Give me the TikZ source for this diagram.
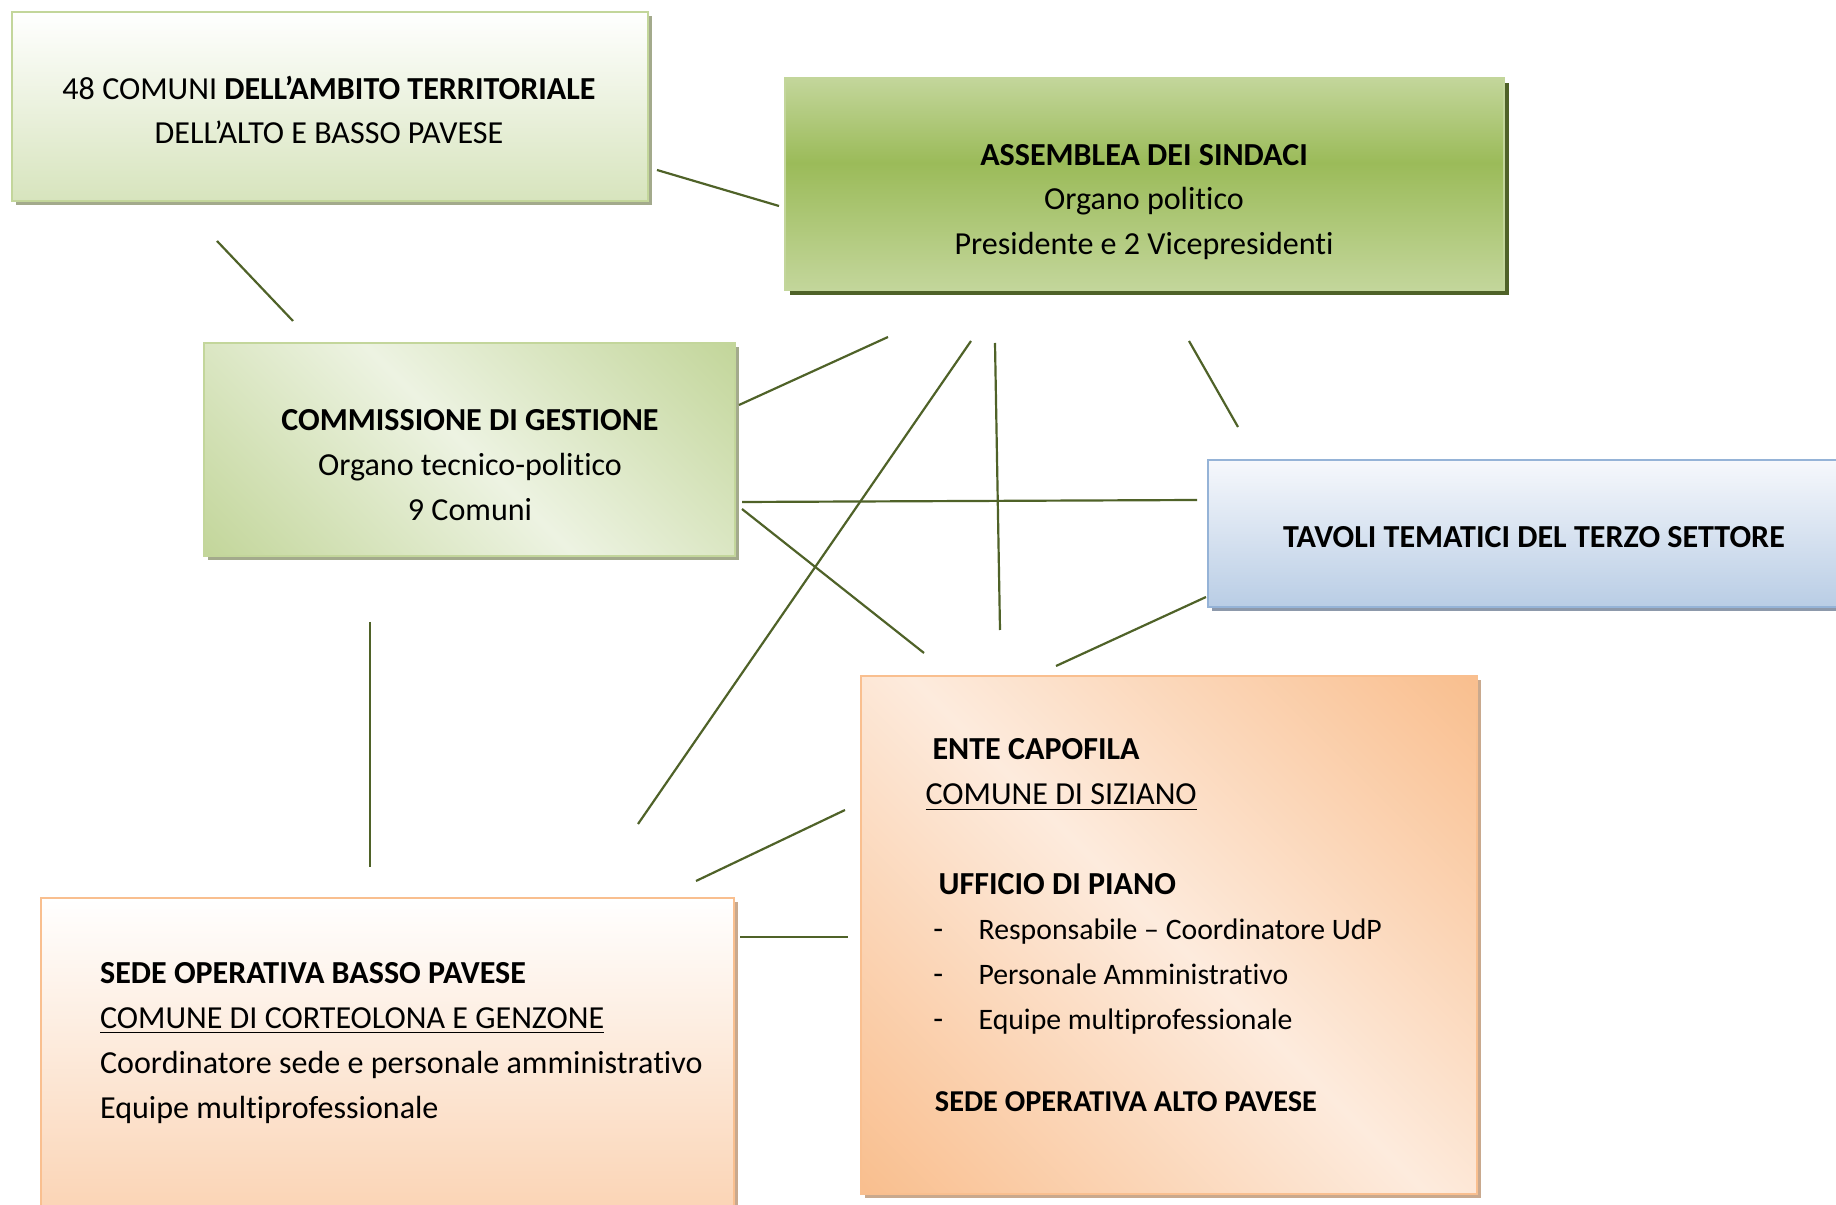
\documentclass[tikz,border=0pt]{standalone}
\usepackage{fontspec}
\setmainfont{Carlito}[Ligatures={TeX,NoCommon}]
\usetikzlibrary{shadows}

\definecolor{linegreen}{HTML}{4F6228}
\definecolor{greenxl}{HTML}{EDF3E2}
\definecolor{greenpale}{HTML}{D7E4BD}
\definecolor{greenlight}{HTML}{C3D69B}
\definecolor{greenmid}{HTML}{9BBB59}
\definecolor{greenshadow}{HTML}{A3AA8C}
\definecolor{bluelight}{HTML}{B9CDE5}
\definecolor{bluetop}{HTML}{F6F8FC}
\definecolor{blueborder}{HTML}{95B3D7}
\definecolor{blueshadow}{HTML}{8D99AB}
\definecolor{peach}{HTML}{F9BF8F}
\definecolor{peachlight}{HTML}{FDEBDD}
\definecolor{peachbottom}{HTML}{FAD0AE}
\definecolor{peachshadow}{HTML}{C9A98E}

\pgfdeclareverticalshading{comunishade}{100bp}{color(0bp)=(greenpale); color(25bp)=(greenpale); color(75bp)=(white); color(100bp)=(white)}
\pgfdeclareverticalshading{assshade}{100bp}{color(0bp)=(greenlight); color(25bp)=(greenlight); color(55bp)=(greenmid); color(75bp)=(greenlight); color(100bp)=(greenlight)}
\pgfdeclarehorizontalshading{commdiag}{100bp}{color(0bp)=(greenlight); color(15bp)=(greenlight); color(50bp)=(greenxl); color(85bp)=(greenlight); color(100bp)=(greenlight)}
\pgfdeclareverticalshading{tavolishade}{100bp}{color(0bp)=(bluelight); color(25bp)=(bluelight); color(75bp)=(bluetop); color(100bp)=(bluetop)}
\pgfdeclarehorizontalshading{entediag}{100bp}{color(0bp)=(peach); color(15bp)=(peach); color(50bp)=(peachlight); color(85bp)=(peach); color(100bp)=(peach)}
\pgfdeclareverticalshading{bassoshade}{100bp}{color(0bp)=(peachbottom); color(25bp)=(peachbottom); color(75bp)=(white); color(100bp)=(white)}

\newcommand\listfont{\fontsize{10.2pt}{15.4pt}\selectfont}

\tikzset{
  box/.style={rectangle, inner sep=0pt, outer sep=0pt, line width=0.8pt},
  greenbox/.style={box, draw=greenlight, drop shadow={shadow xshift=1.4pt, shadow yshift=-1.4pt, fill=greenshadow, opacity=1}},
  txt/.style={font=\fontsize{11pt}{15.4pt}\selectfont, inner sep=0pt, align=center},
  link/.style={draw=linegreen, line width=0.75pt}
}

\begin{document}
\begin{tikzpicture}[x=0.343pt,y=-0.343pt]
  \clip (0,0) rectangle (1836,1205);
  \fill[white] (0,0) rectangle (1836,1205);

  % boxes
  \node[greenbox, shading=comunishade, minimum width=218.1pt, minimum height=64.8pt] (comuni) at (330,106.5) {};
  \node[box, draw=greenlight, shading=assshade, minimum width=246.6pt, minimum height=72.7pt,
        drop shadow={shadow xshift=1.6pt, shadow yshift=-1.6pt, fill=linegreen, opacity=1}] (assemblea) at (1144.5,184) {};
  \node[greenbox, shading=commdiag, shading angle=45, minimum width=182.1pt, minimum height=73.1pt] (commissione) at (469.5,449.5) {};
  \node[box, draw=blueborder, shading=tavolishade, minimum width=237.4pt, minimum height=50.4pt,
        drop shadow={shadow xshift=1.4pt, shadow yshift=-1.4pt, fill=blueshadow, opacity=1}] (tavoli) at (1554,533.5) {};
  \node[box, draw=peach, shading=entediag, shading angle=45, minimum width=211.3pt, minimum height=177.7pt,
        drop shadow={shadow xshift=1.4pt, shadow yshift=-1.4pt, fill=peachshadow, opacity=1}] (ente) at (1169,935) {};
  \node[box, draw=peach, shading=bassoshade, minimum width=237.7pt, minimum height=117.3pt,
        drop shadow={shadow xshift=1.4pt, shadow yshift=-1.4pt, fill=peachshadow, opacity=1}] (basso) at (387.5,1069) {};

  % texts
  \node[txt] (comuni text) at (329,110) {48 COMUNI \textbf{DELL'AMBITO TERRITORIALE}\\DELL'ALTO E BASSO PAVESE};
  \node[txt] (assemblea text) at (1144,202) {\textbf{ASSEMBLEA DEI SINDACI}\\Organo politico\\Presidente e 2 Vicepresidenti};
  \node[txt] (commissione text) at (470,465) {\textbf{COMMISSIONE DI GESTIONE}\\Organo tecnico-politico\\9 Comuni};
  \node[txt] (tavoli text) at (1534,537) {\textbf{TAVOLI TEMATICI DEL TERZO SETTORE}};
  \node[txt, align=left, anchor=base west] (ente text) at (925,1111) {%
    \hspace*{2.4pt}\textbf{ENTE CAPOFILA}\\
    \underline{COMUNE DI SIZIANO}\\[15.4pt]
    \hspace*{4.5pt}\textbf{UFFICIO DI PIANO}\\
    \hspace*{2.7pt}\makebox[15.5pt][l]{-}{\listfont Responsabile -- Coordinatore UdP}\\
    \hspace*{2.7pt}\makebox[15.5pt][l]{-}{\listfont Personale Amministrativo}\\
    \hspace*{2.7pt}\makebox[15.5pt][l]{-}{\listfont Equipe multiprofessionale}\\[12.6pt]
    \hspace*{3.2pt}{\fontsize{10.4pt}{15.4pt}\selectfont\textbf{SEDE OPERATIVA ALTO PAVESE}}};
  \node[txt, align=left, anchor=base west] (basso text) at (99.5,1118) {%
    \textbf{SEDE OPERATIVA BASSO PAVESE}\\
    \underline{COMUNE DI CORTEOLONA E GENZONE}\\
    Coordinatore sede e personale amministrativo\\
    Equipe multiprofessionale};

  % connector ends
  \coordinate (com-a) at (657,170);   \coordinate (a-com) at (779,206);
  \coordinate (com-c) at (217,241);   \coordinate (c-com) at (293,321);
  \coordinate (comm-a) at (739,405);  \coordinate (a-comm) at (888,337);
  \coordinate (ass-f) at (971,341);   \coordinate (f-ass) at (638,824);
  \coordinate (ass-e) at (995,343);   \coordinate (e-ass) at (1000,630);
  \coordinate (ass-d) at (1189,341);  \coordinate (d-ass) at (1238,427);
  \coordinate (comm-d) at (742,502);  \coordinate (d-comm) at (1197,500);
  \coordinate (comm-e) at (742,509);  \coordinate (e-comm) at (924,653);
  \coordinate (tav-e) at (1206,597);  \coordinate (e-tav) at (1056,666);
  \coordinate (comm-f) at (370,622);  \coordinate (f-comm) at (370,867);
  \coordinate (ente-f) at (845,810);  \coordinate (f-ente) at (696,881);
  \coordinate (bas-e) at (740,937);   \coordinate (e-bas) at (848,937);

  % connectors
  \draw[link] (com-a) -- (a-com);
  \draw[link] (com-c) -- (c-com);
  \draw[link] (comm-a) -- (a-comm);
  \draw[link] (ass-f) -- (f-ass);
  \draw[link] (ass-e) -- (e-ass);
  \draw[link] (ass-d) -- (d-ass);
  \draw[link] (comm-d) -- (d-comm);
  \draw[link] (comm-e) -- (e-comm);
  \draw[link] (tav-e) -- (e-tav);
  \draw[link] (comm-f) -- (f-comm);
  \draw[link] (ente-f) -- (f-ente);
  \draw[link] (bas-e) -- (e-bas);
\end{tikzpicture}
\end{document}
